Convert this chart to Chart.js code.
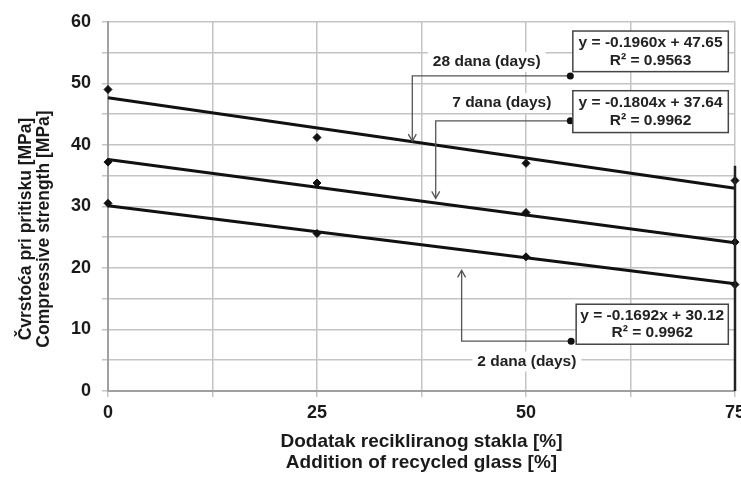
<!DOCTYPE html>
<html>
<head>
<meta charset="utf-8">
<script src="https://cdn.jsdelivr.net/npm/chart.js@4/dist/chart.umd.min.js"></script>
<style>
  html, body { margin: 0; padding: 0; background: #fff; }
  #wrap { width: 741px; height: 479px; position: relative; }
</style>
</head>
<body>
<div id="wrap"><canvas id="c" width="741" height="479"></canvas></div>
<script>
// Glass content (%) tested
const glassPct = [0, 25, 50, 75];

// Measured compressive strength (MPa) per curing age
const strength28d = [49.0, 41.2, 37.0, 34.2];
const strength7d  = [37.2, 33.8, 29.0, 24.2];
const strength2d  = [30.5, 25.6, 21.8, 17.3];

// Linear fits: [slope, intercept, R²]
const fit28d = [-0.1960, 47.65, 0.9563];
const fit7d  = [-0.1804, 37.64, 0.9962];
const fit2d  = [-0.1692, 30.12, 0.9962];

// Axis labels
const yTitle = ['Čvrstoća pri pritisku [MPa]', 'Compressive strength [MPa]'];
const xTitle = ['Dodatak recikliranog stakla [%]', 'Addition of recycled glass [%]'];
const ageLabels = ['28 dana (days)', '7 dana (days)', '2 dana (days)'];

const FONT = "'Liberation Sans', Arial, sans-serif";

function points(ys) { return glassPct.map((x, i) => ({ x: x, y: ys[i] })); }
function trend(fit) {
  const x0 = glassPct[0], x1 = glassPct[glassPct.length - 1];
  return [{ x: x0, y: fit[1] + fit[0] * x0 }, { x: x1, y: fit[1] + fit[0] * x1 }];
}
function fmtEq(fit) {
  return ['y = ' + fit[0].toFixed(4) + 'x + ' + fit[1].toFixed(2), 'R\u00B2 = ' + fit[2].toFixed(4)];
}

// Callout layout in axis units: box extents, leader dot, elbow x, arrow tip y, caption centre
const callouts = [
  { fit: fit28d, label: ageLabels[0], box: [55.6, 74.2, 58.5, 51.9], dot: [55.3, 51.2], elbowX: 36.4, tipY: 40.6, cap: [45.3, 53.5] },
  { fit: fit7d,  label: ageLabels[1], box: [55.6, 74.2, 48.8, 42.0], dot: [55.3, 43.9], elbowX: 39.2, tipY: 31.3, cap: [47.1, 46.8] },
  { fit: fit2d,  label: ageLabels[2], box: [56.0, 74.2, 14.1, 7.6],  dot: [55.4, 8.1],  elbowX: 42.3, tipY: 19.6, cap: [50.1, 4.8] }
];

const calloutPlugin = {
  id: 'callouts',
  afterDatasetsDraw(chart) {
    const ctx = chart.ctx, xs = chart.scales.x, ys = chart.scales.y;
    const X = v => xs.getPixelForValue(v), Y = v => ys.getPixelForValue(v);
    ctx.save();

    // right frame segment at the end of the range
    ctx.strokeStyle = '#222';
    ctx.lineWidth = 2.5;
    ctx.beginPath();
    ctx.moveTo(X(75), Y(36.6));
    ctx.lineTo(X(75), Y(0));
    ctx.stroke();

    callouts.forEach(c => {
      // caption with white backing
      ctx.font = 'bold 15.5px ' + FONT;
      ctx.textAlign = 'center';
      ctx.textBaseline = 'middle';
      const w = ctx.measureText(c.label).width;
      ctx.fillStyle = '#fff';
      ctx.fillRect(X(c.cap[0]) - w / 2 - 5, Y(c.cap[1]) - 10, w + 10, 20);
      ctx.fillStyle = '#222';
      ctx.fillText(c.label, X(c.cap[0]), Y(c.cap[1]));

      // leader: dot -> elbow -> arrow tip
      ctx.strokeStyle = '#555';
      ctx.lineWidth = 1.3;
      ctx.beginPath();
      ctx.moveTo(X(c.dot[0]), Y(c.dot[1]));
      ctx.lineTo(X(c.elbowX), Y(c.dot[1]));
      ctx.lineTo(X(c.elbowX), Y(c.tipY));
      ctx.stroke();
      const tx = X(c.elbowX), ty = Y(c.tipY);
      const dir = Y(c.tipY) > Y(c.dot[1]) ? -1 : 1;
      ctx.beginPath();
      ctx.moveTo(tx - 4, ty + dir * 7);
      ctx.lineTo(tx, ty);
      ctx.lineTo(tx + 4, ty + dir * 7);
      ctx.stroke();

      ctx.fillStyle = '#111';
      ctx.beginPath();
      ctx.arc(X(c.dot[0]), Y(c.dot[1]), 3.5, 0, Math.PI * 2);
      ctx.fill();

      // equation box
      const bx = X(c.box[0]), by = Y(c.box[2]);
      const bw = X(c.box[1]) - bx, bh = Y(c.box[3]) - by;
      ctx.fillStyle = '#fff';
      ctx.fillRect(bx, by, bw, bh);
      ctx.strokeStyle = '#444';
      ctx.lineWidth = 1.5;
      ctx.strokeRect(bx, by, bw, bh);
      const eq = fmtEq(c.fit);
      ctx.fillStyle = '#222';
      ctx.font = 'bold 15.5px ' + FONT;
      ctx.fillText(eq[0], bx + bw / 2, by + bh * 0.29);
      ctx.fillText(eq[1], bx + bw / 2, by + bh * 0.72);
    });

    ctx.restore();
  },
  afterDraw(chart) {
    const ctx = chart.ctx, a = chart.chartArea;
    ctx.save();
    ctx.fillStyle = '#1a1a1a';
    ctx.textAlign = 'center';
    ctx.textBaseline = 'middle';
    ctx.font = 'bold 19px ' + FONT;
    const cx = (a.left + a.right) / 2;
    ctx.fillText(xTitle[0], cx, 442);
    ctx.fillText(xTitle[1], cx, 463);
    ctx.translate(0, 229);
    ctx.rotate(-Math.PI / 2);
    ctx.textBaseline = 'alphabetic';
    ctx.font = 'bold 17.5px ' + FONT;
    ctx.fillText(yTitle[0], 0, 31);
    ctx.fillText(yTitle[1], 0, 48.5);
    ctx.restore();
  }
};

const lineStyle = { borderColor: '#111', borderWidth: 3, pointRadius: 0, showLine: true, fill: false, tension: 0, clip: false };
const ptStyle = { backgroundColor: '#111', borderColor: '#111', pointStyle: 'rectRot', pointRadius: 4, showLine: false, clip: false };

new Chart(document.getElementById('c'), {
  type: 'scatter',
  data: {
    datasets: [
      Object.assign({ label: 'fit 28', data: trend(fit28d) }, lineStyle),
      Object.assign({ label: 'fit 7',  data: trend(fit7d) }, lineStyle),
      Object.assign({ label: 'fit 2',  data: trend(fit2d) }, lineStyle),
      Object.assign({ label: '28', data: points(strength28d) }, ptStyle),
      Object.assign({ label: '7',  data: points(strength7d) }, ptStyle),
      Object.assign({ label: '2',  data: points(strength2d) }, ptStyle)
    ]
  },
  options: {
    responsive: false,
    animation: false,
    layout: { padding: { top: 21, right: 6, left: 0, bottom: 0 } },
    plugins: { legend: { display: false }, tooltip: { enabled: false } },
    scales: {
      x: {
        type: 'linear', min: 0, max: 75,
        afterFit(s) { s.height = 88; s.paddingLeft = 0; s.paddingRight = 0; },
        ticks: {
          stepSize: 12.5, autoSkip: false, maxRotation: 0, padding: 5,
          color: '#1a1a1a', font: { family: FONT, size: 18, weight: 'bold' },
          callback: v => (v % 25 === 0 ? String(v) : '')
        },
        grid: { color: '#c4c4c4', lineWidth: 1.5, tickLength: 6 },
        border: { color: '#a0a0a0', width: 2 }
      },
      y: {
        min: 0, max: 60,
        afterFit(s) { s.width = 108; },
        ticks: {
          stepSize: 5, autoSkip: false, padding: 11,
          color: '#1a1a1a', font: { family: FONT, size: 18, weight: 'bold' },
          callback: v => (v % 10 === 0 ? String(v) : '')
        },
        grid: { color: '#c4c4c4', lineWidth: 1.5, tickLength: 6 },
        border: { color: '#a0a0a0', width: 2 }
      }
    }
  },
  plugins: [calloutPlugin]
});
</script>
</body>
</html>
